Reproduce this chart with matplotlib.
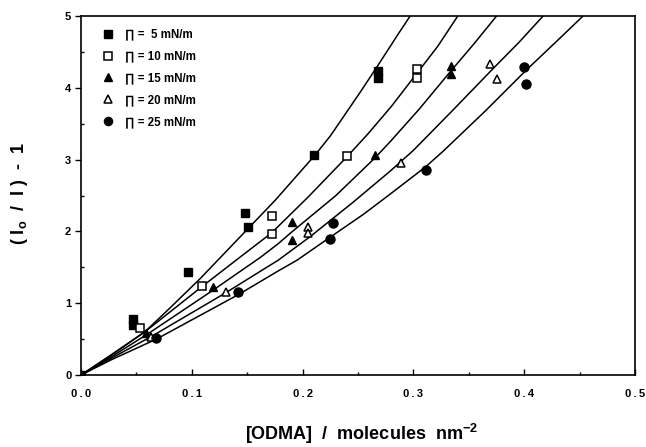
import numpy as np
import matplotlib
matplotlib.use("Agg")
import matplotlib.pyplot as plt

plt.rcParams['font.family'] = ['Liberation Sans', 'DejaVu Sans']
plt.rcParams['font.weight'] = 'bold'
plt.rcParams['mathtext.fontset'] = 'custom'
plt.rcParams['mathtext.rm'] = 'Liberation Sans:bold'
plt.rcParams['mathtext.it'] = 'Liberation Sans:bold'
plt.rcParams['mathtext.bf'] = 'Liberation Sans:bold'

labels = ["\u220f =  5 mN/m", "\u220f = 10 mN/m", "\u220f = 15 mN/m",
          "\u220f = 20 mN/m", "\u220f = 25 mN/m"]
xtick_labels = ["0\u2009.\u20090", "0\u2009.\u20091", "0\u2009.\u20092",
                "0\u2009.\u20093", "0\u2009.\u20094", "0\u2009.\u20095"]

# measured points
x5 = [0, 0.047, 0.047, 0.097, 0.148, 0.151, 0.210, 0.268, 0.268]
y5 = [0, 0.78, 0.70, 1.43, 2.26, 2.06, 3.07, 4.24, 4.14]
x10 = [0.053, 0.109, 0.172, 0.172, 0.240, 0.303, 0.303]
y10 = [0.66, 1.24, 2.21, 1.96, 3.05, 4.26, 4.14]
x15 = [0.059, 0.119, 0.190, 0.190, 0.265, 0.334, 0.334]
y15 = [0.58, 1.23, 2.13, 1.88, 3.06, 4.30, 4.19]
x20 = [0.063, 0.131, 0.205, 0.205, 0.289, 0.369, 0.375]
y20 = [0.53, 1.15, 2.06, 1.98, 2.95, 4.33, 4.12]
x25 = [0.068, 0.142, 0.225, 0.227, 0.311, 0.400, 0.402]
y25 = [0.51, 1.16, 1.90, 2.12, 2.85, 4.29, 4.05]

# fitted curves
cx5 = [0, 0.027, 0.0575, 0.08, 0.108, 0.152, 0.175, 0.211, 0.225, 0.252, 0.267, 0.285, 0.297]
cy5 = [0, 0.28, 0.6, 0.93, 1.35, 2.06, 2.43, 3.06, 3.33, 3.94, 4.29, 4.72, 5.0]
cx10 = [0, 0.027, 0.06, 0.109, 0.14, 0.172, 0.205, 0.240, 0.259, 0.28, 0.303, 0.322, 0.340]
cy10 = [0, 0.27, 0.63, 1.23, 1.6, 1.98, 2.48, 3.04, 3.36, 3.74, 4.2, 4.58, 5.0]
cx15 = [0, 0.027, 0.06, 0.119, 0.162, 0.178, 0.19, 0.23, 0.265, 0.279, 0.305, 0.333, 0.355, 0.375]
cy15 = [0, 0.25, 0.57, 1.18, 1.64, 1.83, 1.99, 2.5, 3.02, 3.25, 3.7, 4.22, 4.62, 5.0]
cx20 = [0, 0.027, 0.065, 0.13, 0.178, 0.207, 0.245, 0.279, 0.300, 0.335, 0.372, 0.395, 0.417]
cy20 = [0, 0.23, 0.55, 1.14, 1.6, 1.93, 2.4, 2.84, 3.13, 3.68, 4.27, 4.63, 5.0]
cx25 = [0, 0.027, 0.068, 0.142, 0.178, 0.195, 0.223, 0.255, 0.279, 0.311, 0.327, 0.365, 0.402, 0.43, 0.453]
cy25 = [0, 0.21, 0.5, 1.12, 1.45, 1.6, 1.9, 2.24, 2.52, 2.9, 3.12, 3.68, 4.25, 4.66, 5.0]

fig = plt.figure(figsize=(6.46, 4.47), dpi=100)
ax = fig.add_axes([0.1254, 0.161, 0.8576, 0.803])

for cx, cy in [(cx5, cy5), (cx10, cy10), (cx15, cy15), (cx20, cy20), (cx25, cy25)]:
    ax.plot(cx, cy, color='black', lw=1.1, zorder=2, solid_joinstyle='round')

ax.plot(x5, y5, 's', ms=6, color='black', label=labels[0], zorder=3)
ax.plot(x10, y10, 's', ms=6, mfc='white', mec='black', mew=1.1, label=labels[1], zorder=3)
ax.plot(x15, y15, '^', ms=6, color='black', label=labels[2], zorder=3)
ax.plot(x20, y20, '^', ms=6, mfc='white', mec='black', mew=1.1, label=labels[3], zorder=3)
ax.plot(x25, y25, 'o', ms=6.5, color='black', label=labels[4], zorder=3)

ax.set_xlim(0, 0.5)
ax.set_ylim(0, 5)
ax.set_xticks([0, 0.1, 0.2, 0.3, 0.4, 0.5])
ax.set_xticklabels(xtick_labels)
ax.set_yticks([0, 1, 2, 3, 4, 5])
ax.set_xticks(np.arange(0.05, 0.5, 0.1), minor=True)
ax.set_yticks(np.arange(0.5, 5, 1.0), minor=True)
ax.tick_params(axis='x', which='major', direction='in', length=4, width=1, labelsize=8, pad=10)
ax.tick_params(axis='x', which='minor', direction='in', length=2.5, width=1)
ax.tick_params(axis='y', which='major', direction='out', length=4, width=1, labelsize=8, pad=3)
ax.tick_params(axis='y', which='minor', direction='in', length=2.5, width=1)
for s in ax.spines.values():
    s.set_linewidth(1.2)

fig.text(0.56, 1 - 434 / 447, "[ODMA]  /  molecules  nm$^{\\mathbf{-2}}$",
         fontsize=13, fontweight='bold', ha='center', va='center')
fig.text(20 / 646, 1 - 194 / 447, "( I$_\\mathbf{o}$  /  I )  -  1",
         fontsize=13, fontweight='bold', ha='center', va='center', rotation=90)

ax.legend(loc='upper left', frameon=False, fontsize=8.3, labelspacing=0.85,
          handletextpad=0.5, borderaxespad=0.7, markerscale=0.9,
          bbox_to_anchor=(0.005, 1.0))

fig.savefig("out.png", dpi=100)
